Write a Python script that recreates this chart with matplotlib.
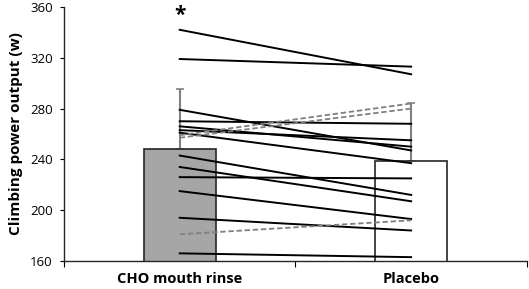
import numpy as np
import matplotlib
matplotlib.use("Agg")
import matplotlib.pyplot as plt

plt.rcParams['font.family'] = ['Open Sans', 'DejaVu Sans']

# group means and SD (upper only)
conditions = ['CHO mouth rinse', 'Placebo']
means = [248, 238.5]
sds = [47.5, 46]

# individual participants: solid = improved with CHO, dashed = improved with placebo
cho_solid = [342, 319, 279, 270, 266, 263, 261, 243, 234, 226, 215, 194, 166]
pla_solid = [307, 313, 247, 268, 250, 255, 237, 212, 207, 225, 193, 184, 163]
cho_dashed = [259, 257, 181]
pla_dashed = [284, 280, 192]

fig = plt.figure(figsize=(5.29, 2.89), dpi=100)
ax = fig.add_axes([0.121, 0.097, 0.875, 0.879])

x = np.array([0.5, 1.5])
ax.bar(x, means, width=0.31, bottom=0, color=['#a6a6a6', 'white'],
       edgecolor='#262626', linewidth=1.2, zorder=2)
ax.errorbar(x, means, yerr=[[0, 0], sds], fmt='none', ecolor='#808080',
            elinewidth=1.5, capsize=3, capthick=1.2, zorder=1)

for a, b in zip(cho_solid, pla_solid):
    ax.plot(x, [a, b], color='black', linewidth=1.4, zorder=3)
for a, b in zip(cho_dashed, pla_dashed):
    ax.plot(x, [a, b], color='#808080', linewidth=1.3, linestyle=(0, (3, 1.5)), zorder=3)

ax.text(0.5, 353, '*', ha='center', va='center', fontsize=15, fontweight='bold')

ax.set_ylim(160, 360)
ax.set_xlim(0, 2)
ax.set_yticks(np.arange(160, 361, 40))
ax.set_xticks([0, 1, 2])
ax.set_xticklabels([])
ax.set_xticks(x, minor=True)
ax.set_xticklabels(conditions, minor=True, fontsize=10.5, fontweight='bold')
ax.tick_params(axis='x', which='minor', length=0, pad=8)
ax.tick_params(axis='x', which='major', length=4, direction='out')
ax.tick_params(axis='y', labelsize=9.5, length=3, direction='out', pad=5)
ax.set_ylabel('Climbing power output (w)', fontsize=11, fontweight='bold', labelpad=5)

for s in ['top', 'right']:
    ax.spines[s].set_visible(False)
for s in ['left', 'bottom']:
    ax.spines[s].set_color('#262626')
    ax.spines[s].set_linewidth(1.0)

fig.savefig('out.png', dpi=100)
